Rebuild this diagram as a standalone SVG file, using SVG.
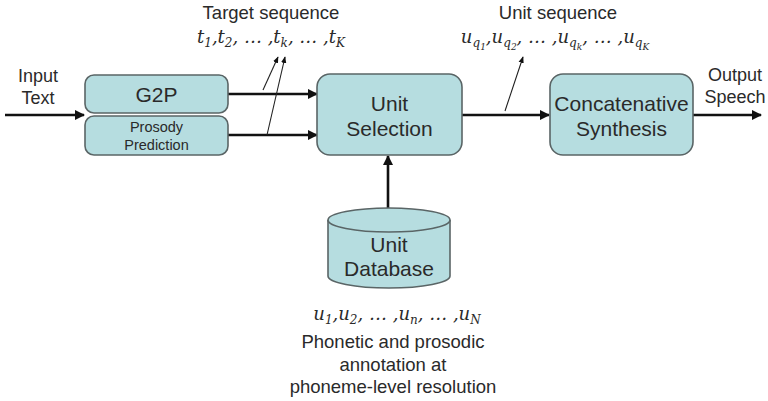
<svg xmlns="http://www.w3.org/2000/svg" width="768" height="401" viewBox="0 0 768 401">
  <style>
    .box { fill: #b6dde0; stroke: #5a6566; stroke-width: 1.6; }
    .lbl { font-family: "Liberation Sans", Arial, sans-serif; fill: #2a2a2a; text-anchor: middle; }
    .math { font-family: "DejaVu Serif", "Liberation Serif", serif; font-style: italic; fill: #2a2a2a; font-size: 18px; text-anchor: middle; }
    .sub { font-size: 12px; }
    .sub2 { font-size: 9px; }
    .flow { stroke: #111; stroke-width: 2.6; fill: none; marker-end: url(#ah); }
    .thin { stroke: #222; stroke-width: 1.1; fill: none; marker-end: url(#ahs); }
  </style>
  <defs>
    <marker id="ah" viewBox="0 0 10 10" refX="9" refY="5" markerWidth="4" markerHeight="4" orient="auto">
      <path d="M0,0 L10,5 L0,10 z" fill="#111"/>
    </marker>
    <marker id="ahs" viewBox="0 0 10 10" refX="9" refY="5" markerWidth="6" markerHeight="6" orient="auto">
      <path d="M0,1 L10,5 L0,9 z" fill="#111"/>
    </marker>
  </defs>

  <rect width="768" height="401" fill="#ffffff"/>

  <g id="connectors">
    <line class="flow" x1="5" y1="115" x2="84" y2="115"/>
    <line class="flow" x1="228" y1="94" x2="317" y2="94"/>
    <line class="flow" x1="228" y1="135" x2="317" y2="135"/>
    <line class="flow" x1="462" y1="115" x2="549" y2="115"/>
    <line class="flow" x1="693" y1="115" x2="761" y2="115"/>
    <line class="flow" x1="388" y1="216" x2="388" y2="156"/>
    <line class="thin" x1="263" y1="90" x2="278" y2="57"/>
    <line class="thin" x1="267" y1="135" x2="285" y2="57"/>
    <line class="thin" x1="505" y1="111" x2="523" y2="57"/>
  </g>

  <g id="input-text">
    <text class="lbl" x="38" y="82" font-size="18">Input</text>
    <text class="lbl" x="38" y="104" font-size="18">Text</text>
  </g>

  <g id="output-speech">
    <text class="lbl" x="735" y="81" font-size="18">Output</text>
    <text class="lbl" x="735" y="103" font-size="18">Speech</text>
  </g>

  <g id="g2p">
    <rect class="box" x="85" y="75" width="143" height="38" rx="9"/>
    <text class="lbl" x="156.5" y="102" font-size="21">G2P</text>
  </g>

  <g id="prosody-prediction">
    <rect class="box" x="85" y="116" width="143" height="39" rx="9"/>
    <text class="lbl" x="156.5" y="132" font-size="14.5">Prosody</text>
    <text class="lbl" x="156.5" y="150" font-size="14.5">Prediction</text>
  </g>

  <g id="unit-selection">
    <rect class="box" x="317" y="74" width="145" height="81" rx="13"/>
    <text class="lbl" x="389.5" y="111" font-size="21">Unit</text>
    <text class="lbl" x="389.5" y="136" font-size="21">Selection</text>
  </g>

  <g id="concatenative-synthesis">
    <rect class="box" x="550" y="74" width="143" height="81" rx="13"/>
    <text class="lbl" x="621.5" y="111" font-size="21">Concatenative</text>
    <text class="lbl" x="621.5" y="136" font-size="21">Synthesis</text>
  </g>

  <g id="unit-database">
    <path class="box" d="M328,220 L328,276 A61,12 0 0 0 450,276 L450,220"/>
    <ellipse class="box" cx="389" cy="220" rx="61" ry="12"/>
    <text class="lbl" x="389" y="252" font-size="21">Unit</text>
    <text class="lbl" x="389" y="276" font-size="21">Database</text>
  </g>

  <g id="target-sequence">
    <text class="lbl" x="271" y="19" font-size="18.5">Target sequence</text>
    <text class="math" x="271" y="43">t<tspan class="sub" dy="4">1</tspan><tspan dy="-4">,t</tspan><tspan class="sub" dy="4">2</tspan><tspan dy="-4">, … ,t</tspan><tspan class="sub" dy="4">k</tspan><tspan dy="-4">, … ,t</tspan><tspan class="sub" dy="4">K</tspan></text>
  </g>

  <g id="unit-sequence">
    <text class="lbl" x="558" y="19" font-size="18.5">Unit sequence</text>
    <text class="math" x="555" y="43">u<tspan class="sub" dy="4">q</tspan><tspan class="sub2" dy="3">1</tspan><tspan dy="-7">,u</tspan><tspan class="sub" dy="4">q</tspan><tspan class="sub2" dy="3">2</tspan><tspan dy="-7">, … ,u</tspan><tspan class="sub" dy="4">q</tspan><tspan class="sub2" dy="3">k</tspan><tspan dy="-7">, … ,u</tspan><tspan class="sub" dy="4">q</tspan><tspan class="sub2" dy="3">K</tspan></text>
  </g>

  <g id="database-annotation">
    <text class="math" x="397" y="320">u<tspan class="sub" dy="4">1</tspan><tspan dy="-4">,u</tspan><tspan class="sub" dy="4">2</tspan><tspan dy="-4">, … ,u</tspan><tspan class="sub" dy="4">n</tspan><tspan dy="-4">, … ,u</tspan><tspan class="sub" dy="4">N</tspan></text>
    <text class="lbl" x="393" y="348" font-size="18.5">Phonetic and prosodic</text>
    <text class="lbl" x="393" y="371" font-size="18.5">annotation at</text>
    <text class="lbl" x="393" y="393" font-size="18.5">phoneme-level resolution</text>
  </g>
</svg>
